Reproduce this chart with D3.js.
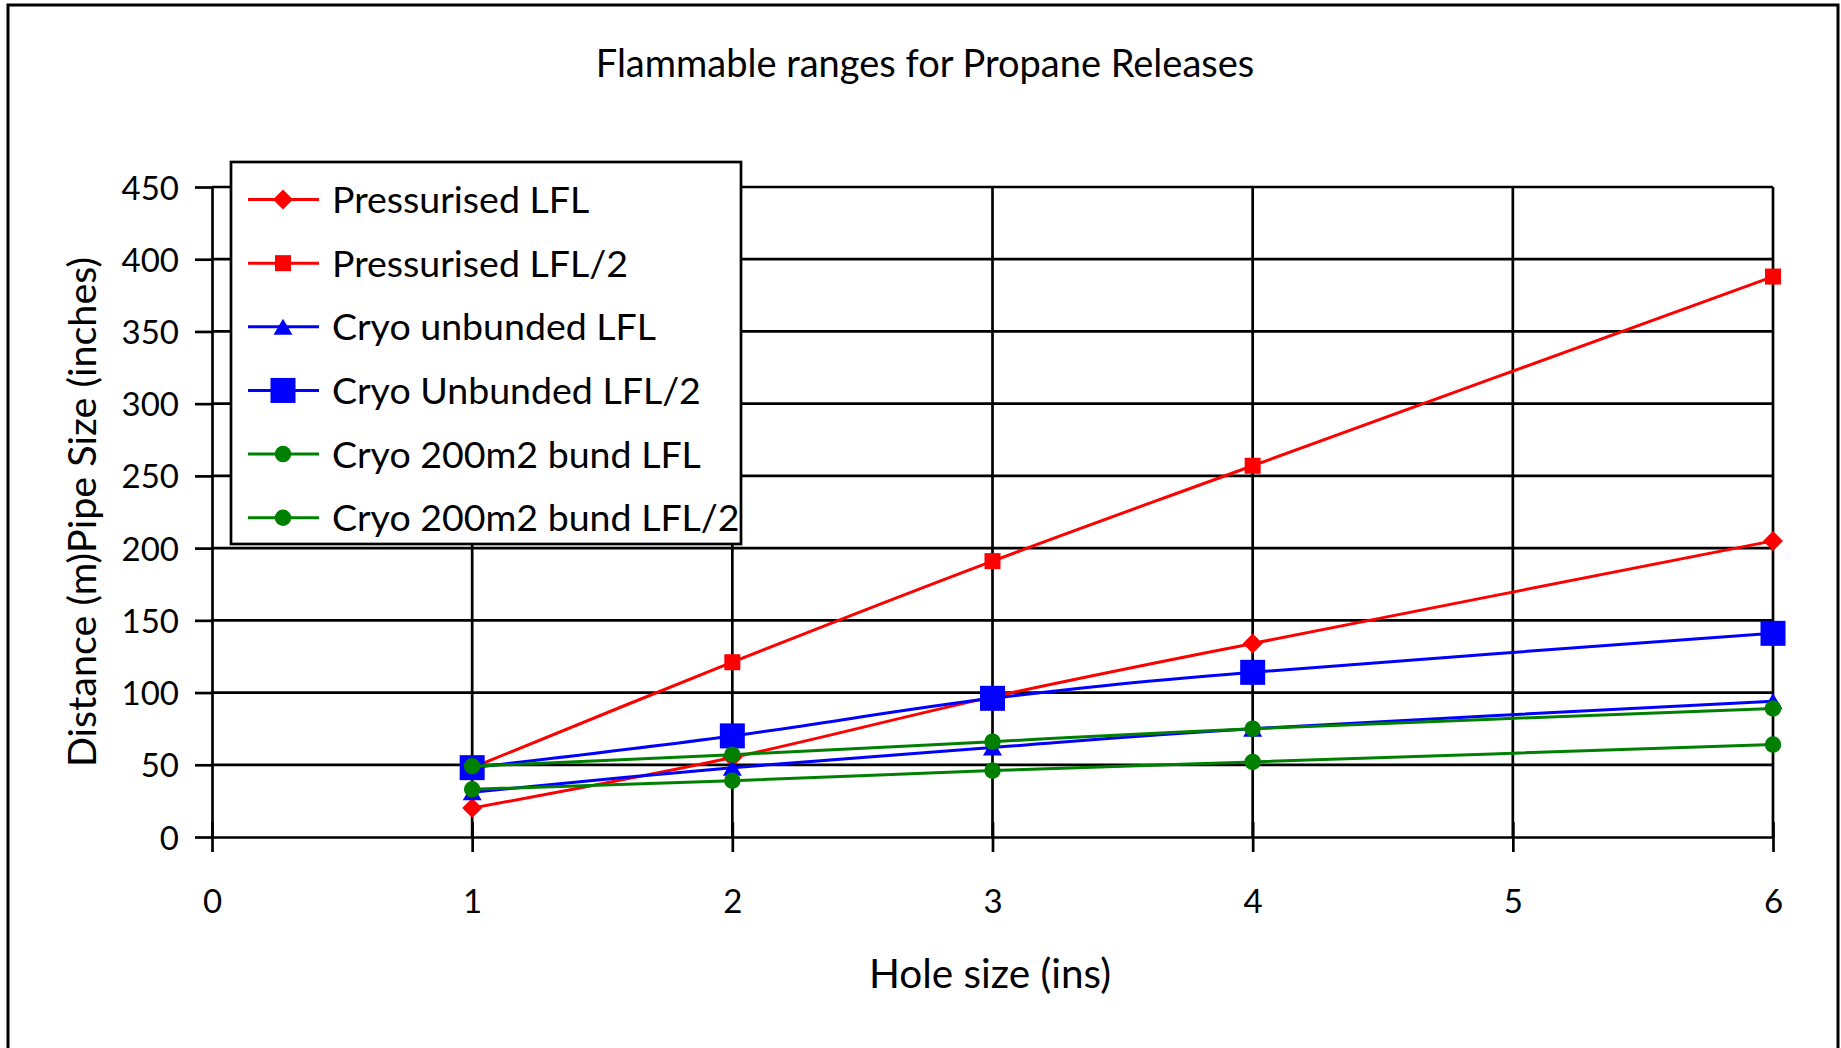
<!DOCTYPE html>
<html>
<head>
<meta charset="utf-8">
<script src="https://cdn.jsdelivr.net/npm/d3@7"></script>
<style>
  html, body { margin: 0; padding: 0; background: #fff; overflow: hidden; }
  svg { display: block; }
  text { font-family: Lato, "Open Sans", sans-serif; fill: #000; }
</style>
</head>
<body>
<svg id="chart" width="1841" height="1048"></svg>
<script>
// Hole sizes (inches) at which each release case was evaluated
const holeSizes = [1, 2, 3, 4, 6];

// Flammable distances (m) per release case
const pressurisedLFL      = [20, 55, 97, 134, 205];
const pressurisedLFL2     = [48, 121, 191, 257, 388];
const cryoUnbundedLFL     = [31, 48, 62, 75, 94];
const cryoUnbundedLFL2    = [48, 70, 96, 114, 141];
const cryoBund200LFL      = [49, 57, 66, 75, 89];
const cryoBund200LFL2     = [33, 39, 46, 52, 64];

const seriesNames = [
  "Pressurised LFL",
  "Pressurised LFL/2",
  "Cryo unbunded LFL",
  "Cryo Unbunded LFL/2",
  "Cryo 200m2 bund LFL",
  "Cryo 200m2 bund LFL/2"
];

const xTicks = [0, 1, 2, 3, 4, 5, 6];
const yTicks = [0, 50, 100, 150, 200, 250, 300, 350, 400, 450];

const titleText = "Flammable ranges for Propane Releases";
const xTitleText = "Hole size (ins)";
const yTitleText = "Distance (m)Pipe Size (inches)";

// styling per series: colour, marker shape and marker width in px
const styles = [
  { color: "#ff0000", shape: "diamond",  size: 20 },
  { color: "#ff0000", shape: "square",   size: 16 },
  { color: "#0000ff", shape: "triangle", size: 19 },
  { color: "#0000ff", shape: "square",   size: 25 },
  { color: "#008000", shape: "circle",   size: 16.5 },
  { color: "#008000", shape: "circle",   size: 16.5 }
];

const seriesValues = [pressurisedLFL, pressurisedLFL2, cryoUnbundedLFL,
                      cryoUnbundedLFL2, cryoBund200LFL, cryoBund200LFL2];

const series = seriesNames.map((name, i) => ({
  name,
  style: styles[i],
  points: holeSizes.map((h, j) => ({ x: h, y: seriesValues[i][j] }))
}));

// marker outline centred on the origin
function markerPath(shape, w) {
  const p = d3.path();
  const h = w / 2;
  if (shape === "diamond") {
    p.moveTo(0, -h); p.lineTo(h, 0); p.lineTo(0, h); p.lineTo(-h, 0); p.closePath();
  } else if (shape === "square") {
    p.rect(-h, -h, w, w);
  } else if (shape === "triangle") {
    const th = w * 0.85;
    p.moveTo(0, -th / 2); p.lineTo(h, th / 2); p.lineTo(-h, th / 2); p.closePath();
  } else {
    p.arc(0, 0, h, 0, 2 * Math.PI);
  }
  return p.toString();
}

const svg = d3.select("#chart");

// plot frame
const plot = { left: 212, right: 1773, top: 187, bottom: 837 };
const x = d3.scaleLinear().domain([0, 6]).range([plot.left, plot.right]);
const y = d3.scaleLinear().domain([0, 450]).range([plot.bottom, plot.top]);

// chart-area border
svg.append("rect")
  .attr("x", 8).attr("y", 5)
  .attr("width", 1830).attr("height", 1080)
  .attr("fill", "#fff")
  .attr("stroke", "#000").attr("stroke-width", 3);

// title
svg.append("text")
  .attr("x", 925).attr("y", 77)
  .attr("text-anchor", "middle")
  .style("font-size", "38px")
  .text(titleText);

// gridlines
const grid = svg.append("g").attr("stroke", "#000").attr("stroke-width", 2.7);
grid.selectAll("line.h").data(yTicks.filter(v => v > 0)).join("line")
  .attr("class", "h")
  .attr("x1", plot.left).attr("x2", plot.right)
  .attr("y1", d => y(d)).attr("y2", d => y(d));
grid.selectAll("line.v").data(xTicks.filter(v => v > 0)).join("line")
  .attr("class", "v")
  .attr("x1", d => x(d)).attr("x2", d => x(d))
  .attr("y1", plot.top).attr("y2", plot.bottom);

// y axis
const yAxis = svg.append("g")
  .attr("transform", `translate(${plot.left},0)`)
  .call(d3.axisLeft(y).tickValues(yTicks).tickFormat(d3.format("d"))
    .tickSize(17).tickPadding(16).tickSizeOuter(0));
yAxis.selectAll(".tick text")
  .attr("dy", null).attr("y", 12)
  .style("font-size", "33px")
  .style("font-family", "Lato, sans-serif");

// x axis
const xAxis = svg.append("g")
  .attr("transform", `translate(0,${plot.bottom})`)
  .call(d3.axisBottom(x).tickValues(xTicks).tickFormat(d3.format("d"))
    .tickSize(15).tickPadding(0).tickSizeOuter(0));
xAxis.selectAll(".tick line").attr("y1", -15);
xAxis.selectAll(".tick text")
  .attr("dy", null).attr("y", 76)
  .style("font-size", "33px")
  .style("font-family", "Lato, sans-serif");
svg.selectAll(".domain").attr("stroke", "#000").attr("stroke-width", 2.7);
svg.selectAll(".tick line").attr("stroke", "#000").attr("stroke-width", 2.7);

// axis titles
svg.append("text")
  .attr("x", 990).attr("y", 988)
  .attr("text-anchor", "middle")
  .style("font-size", "40.5px")
  .text(xTitleText);

svg.append("text")
  .attr("transform", "translate(96,512) rotate(-90)")
  .attr("text-anchor", "middle")
  .style("font-size", "39.5px")
  .text(yTitleText);

// series lines (smoothed) and markers
const line = d3.line()
  .x(d => x(d.x)).y(d => y(d.y))
  .curve(d3.curveCatmullRom.alpha(0));

const seriesG = svg.append("g");
series.forEach(s => {
  const g = seriesG.append("g");
  g.append("path")
    .datum(s.points)
    .attr("d", line)
    .attr("fill", "none")
    .attr("stroke", s.style.color)
    .attr("stroke-width", 3);
  g.selectAll("path.m").data(s.points).join("path")
    .attr("class", "m")
    .attr("transform", d => `translate(${x(d.x)},${y(d.y)})`)
    .attr("d", markerPath(s.style.shape, s.style.size))
    .attr("fill", s.style.color);
});

// legend
const legend = svg.append("g");
legend.append("rect")
  .attr("x", 231).attr("y", 162)
  .attr("width", 510).attr("height", 382)
  .attr("fill", "#fff")
  .attr("stroke", "#000").attr("stroke-width", 2.7);

const rowY = i => 199.5 + i * 63.65;
series.forEach((s, i) => {
  const g = legend.append("g").attr("transform", `translate(0,${rowY(i)})`);
  g.append("line")
    .attr("x1", 248).attr("x2", 319)
    .attr("stroke", s.style.color).attr("stroke-width", 3);
  g.append("path")
    .attr("transform", "translate(283,0)")
    .attr("d", markerPath(s.style.shape, s.style.size))
    .attr("fill", s.style.color);
  g.append("text")
    .attr("x", 332).attr("y", 0).attr("dy", "0.36em")
    .style("font-size", "37.5px")
    .text(s.name);
});
</script>
</body>
</html>
